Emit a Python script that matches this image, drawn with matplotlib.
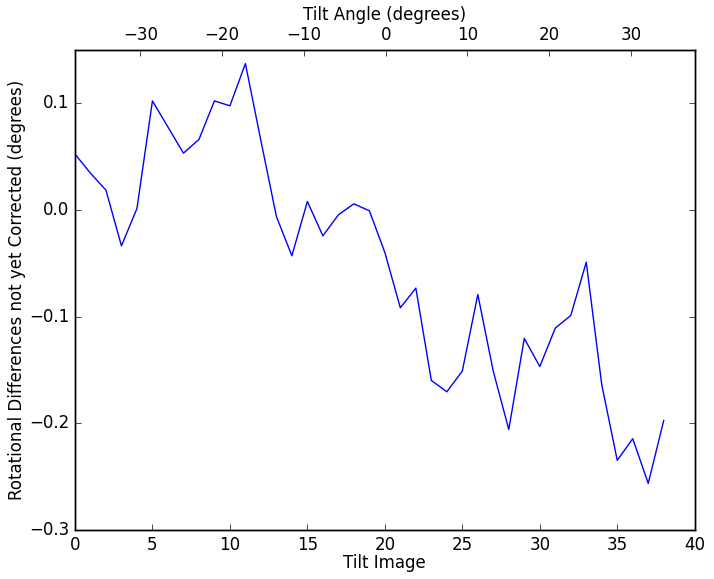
import numpy as np
import matplotlib
matplotlib.use('Agg')
import matplotlib.pyplot as plt

# rotational differences per tilt image
tilt_image = np.arange(39)
rot_diff = [0.0524, 0.0346, 0.0186, -0.0336, 0.0014, 0.1023, 0.0778, 0.0533,
            0.0661, 0.1023, 0.0977, 0.1373, 0.0650, -0.0061, -0.0429, 0.0080,
            -0.0242, -0.0045, 0.0058, -0.0007, -0.0398, -0.0917, -0.0732,
            -0.1598, -0.1704, -0.1510, -0.0792, -0.1513, -0.2057, -0.1204,
            -0.1467, -0.1107, -0.0989, -0.0489, -0.1638, -0.2347, -0.2144,
            -0.2563, -0.1973]

# tilt angle of first and last image
angle_first = -38.0
angle_last = 34.0

plt.style.use('classic')
fig = plt.figure(figsize=(7.14, 5.79), dpi=100)
ax = fig.add_axes([0.105, 0.0846, 0.868, 0.829])
ax.plot(tilt_image, rot_diff, color='b', linewidth=1)
ax.set_xlim(0, 40)
ax.set_ylim(-0.3, 0.15)
ax.set_yticks([-0.3, -0.2, -0.1, 0.0, 0.1])
ax.set_xlabel('Tilt Image', labelpad=0)
ax.set_ylabel('Rotational Differences not yet Corrected (degrees)', labelpad=2)

# top axis: tilt angle, linear in image index
step = (angle_last - angle_first) / (len(tilt_image) - 1)
ax2 = ax.twiny()
ax2.set_xlim(angle_first, angle_first + 40 * step)
ax2.set_xticks([-30, -20, -10, 0, 10, 20, 30])
ax2.set_xlabel('Tilt Angle (degrees)')

plt.savefig('out.png', dpi=100)
